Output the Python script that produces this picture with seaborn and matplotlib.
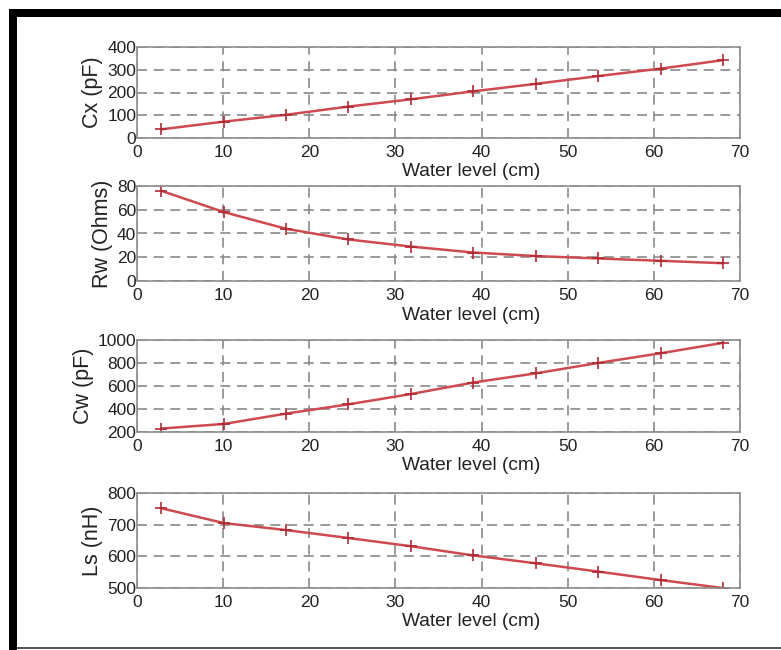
import numpy as np
import pandas as pd
import matplotlib
matplotlib.use("Agg")
import matplotlib.pyplot as plt
import seaborn as sns

sns.set_theme(style="white")
plt.rcParams["font.family"] = ["Liberation Sans", "DejaVu Sans"]

# Water level (cm) at each measurement
level = [2.8, 10.1, 17.3, 24.5, 31.8, 39.0, 46.3, 53.5, 60.8, 68.0]
# Measured quantities
cx = [38, 72, 102, 138, 170, 205, 238, 272, 305, 342]
rw = [76, 58, 44, 35, 29, 24, 21, 19, 17, 15]
cw = [230, 270, 360, 440, 530, 630, 710, 800, 885, 975]
ls = [752, 705, 683, 658, 632, 603, 578, 552, 525, 500]

panels = [
    ("Cx (pF)", cx, (0, 400), [0, 100, 200, 300, 400]),
    ("Rw (Ohms)", rw, (0, 80), [0, 20, 40, 60, 80]),
    ("Cw (pF)", cw, (200, 1000), [200, 400, 600, 800, 1000]),
    ("Ls (nH)", ls, (500, 800), [500, 600, 700, 800]),
]

W, H = 781, 650
fig = plt.figure(figsize=(W / 100, H / 100), dpi=100)
fig.patch.set_facecolor("white")

# black frame: top and left bands, thin grey line at the bottom
fig.patches.append(plt.Rectangle((9 / W, 1 - 17 / H), 1, 8 / H, transform=fig.transFigure,
                                 facecolor="black", edgecolor="none", zorder=0))
fig.patches.append(plt.Rectangle((9 / W, 0), 8 / W, 1 - 9 / H, transform=fig.transFigure,
                                 facecolor="black", edgecolor="none", zorder=0))
fig.patches.append(plt.Rectangle((17 / W, 1.5 / H), 1, 1.5 / H, transform=fig.transFigure,
                                 facecolor="#555555", edgecolor="none", zorder=0))

left, right = 137, 740
tops = [47, 186, 340, 493]
bottoms = [138, 281, 432, 588]
red = "#cf4a4f"

for (ylab, vals, ylim, yt), t, b in zip(panels, tops, bottoms):
    ax = fig.add_axes([left / W, 1 - b / H, (right - left) / W, (b - t) / H])
    df = pd.DataFrame({"level": level, "val": vals})
    sns.lineplot(data=df, x="level", y="val", ax=ax, color=red, lw=1.8,
                 marker="+", markersize=9, markeredgewidth=1.2,
                 markeredgecolor="#b02a35")
    ax.set_xlim(0, 70)
    ax.set_ylim(*ylim)
    ax.set_xticks(range(0, 71, 10))
    ax.set_yticks(yt)
    ax.tick_params(direction="in", length=4, color="#555555",
                   labelsize=12.5, labelcolor="#222222")
    ax.tick_params(axis="x", pad=5)
    ax.tick_params(axis="y", pad=0.5)
    ax.grid(True, color="#8a8a8a", ls=(0, (6, 4)), lw=1.2)
    for sp in ax.spines.values():
        sp.set_color("#8c8c8c")
        sp.set_linewidth(1.2)
    ax.set_xlabel("Water level (cm)", fontsize=13.8, color="#222222")
    # label sits right of centre, as in the original
    ax.xaxis.set_label_coords(0.554, -34 / (b - t))
    ax.xaxis.label.set_va("center")
    ax.set_ylabel(ylab, fontsize=15.5, color="#222222", labelpad=3)

fig.savefig("out.png", dpi=100)
